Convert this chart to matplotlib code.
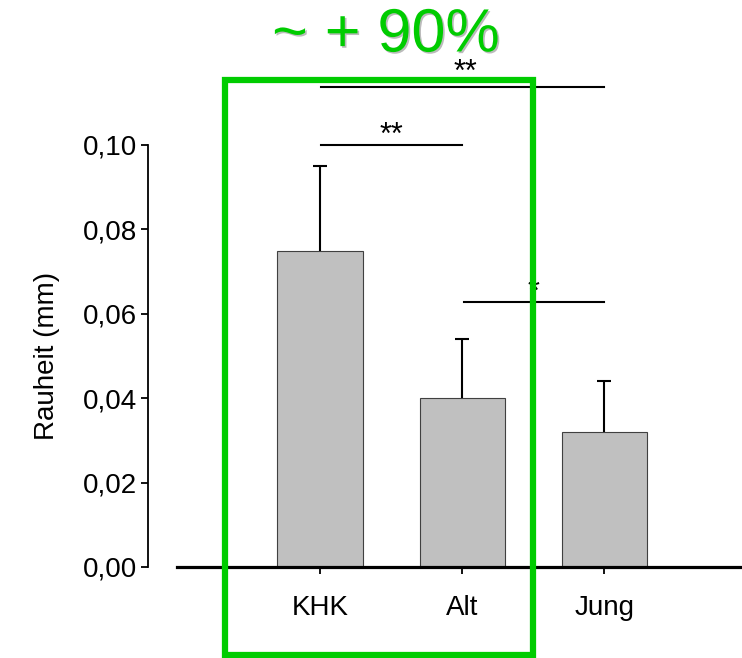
import matplotlib.pyplot as plt
import matplotlib.patches as patches
import matplotlib.patheffects as pe

plt.rcParams['font.family'] = ['Liberation Sans', 'DejaVu Sans']

groups = ['KHK', 'Alt', 'Jung']
means = [0.075, 0.040, 0.032]
errors = [0.020, 0.014, 0.012]
yticks = [0.00, 0.02, 0.04, 0.06, 0.08, 0.10]
ytick_labels = ['0,00', '0,02', '0,04', '0,06', '0,08', '0,10']

# significance brackets: (from, to, height, label)
sig_pairs = [(0, 1, 0.100, '**'), (0, 2, 0.1138, '**'), (1, 2, 0.0627, '*')]
label_lift = [0.0002, 0.0015, 0.0003]

W, H = 742, 658
fig = plt.figure(figsize=(W / 100, H / 100), dpi=100)
ax = fig.add_axes([177 / W, 1 - 567 / H, (742 - 177) / W, (567 - 145) / H])

x = list(range(len(groups)))
ax.bar(x, means, width=0.6, color='#c0c0c0', edgecolor='#404040', linewidth=0.8, zorder=2)
eb = ax.errorbar(x, means, yerr=[[0] * len(errors), errors], fmt='none', ecolor='black',
                 elinewidth=1.5, capsize=5, capthick=1.5, zorder=3)
eb[1][0].set_visible(False)  # no cap at the bar top

for s in ['top', 'right']:
    ax.spines[s].set_visible(False)
ax.spines['left'].set_position(('outward', 21))
ax.spines['left'].set_linewidth(1.3)
ax.spines['bottom'].set_linewidth(2.3)

ax.set_xlim(-1.007, 2.97)
ax.set_ylim(0, 0.10)
ax.set_xticks(x)
ax.set_xticklabels(groups)
ax.set_yticks(yticks)
ax.set_yticklabels(ytick_labels)
ax.tick_params(axis='x', labelsize=20, length=5, width=1.3, pad=15)
ax.tick_params(axis='y', labelsize=20, length=5, width=1.3, pad=3)
ax.set_ylabel('Rauheit (mm)', fontsize=20, labelpad=16)

for (a, b, h, lab), lift in zip(sig_pairs, label_lift):
    ax.plot([a + 0.01, b], [h, h], color='black', lw=1.5, clip_on=False, zorder=4)
    ax.text((a + b) / 2 if b - a == 1 else 1.02, h + lift, lab, ha='center', va='baseline',
            fontsize=22, clip_on=False)

# green highlight box
rect = patches.Rectangle((225 / W, 1 - 655 / H), (533 - 225) / W, (655 - 80) / H,
                         transform=fig.transFigure, fill=False, edgecolor='#00cc00',
                         linewidth=4.5, zorder=5)
fig.patches.append(rect)

fig.text(386 / W, 1 - 36 / H, '~ + 90%', color='#00cc00', fontsize=44, ha='center',
         va='center',
         path_effects=[pe.withSimplePatchShadow(offset=(1.2, -1.2), shadow_rgbFace='#aaaaaa',
                                                alpha=0.8)])

fig.savefig('out.png', dpi=100)
